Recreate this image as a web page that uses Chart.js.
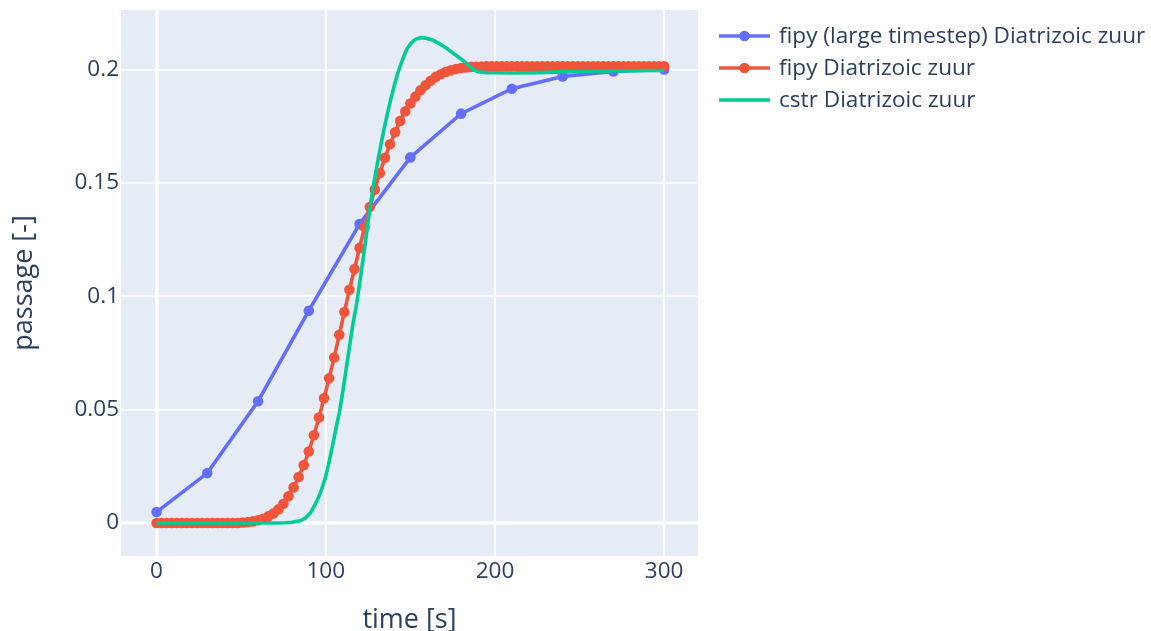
<!DOCTYPE html>
<html>
<head>
<meta charset="utf-8">
<title>passage vs time</title>
<script src="https://cdn.jsdelivr.net/npm/chart.js@4.4.1/dist/chart.umd.min.js"></script>
<style>
  html, body { margin: 0; padding: 0; background: #ffffff; }
  #wrap { width: 1151px; height: 631px; position: relative; }
</style>
</head>
<body>
<div id="wrap"><canvas id="chart" width="1151" height="631"></canvas></div>
<script>
// Series names shown in the legend
const seriesNames = [
  'fipy (large timestep) Diatrizoic zuur',
  'fipy Diatrizoic zuur',
  'cstr Diatrizoic zuur'
];

// fipy with a large timestep (30 s)
const coarseTime = [0, 30, 60, 90, 120, 150, 180, 210, 240, 270, 300];
const coarsePassage = [0.0048, 0.0220, 0.0537, 0.0936, 0.1318, 0.1612, 0.1805, 0.1915, 0.1969, 0.1991, 0.2000];

// fipy with a 3 s timestep
const fineTime = [
  0, 3, 6, 9, 12, 15, 18, 21, 24, 27, 30, 33, 36, 39, 42, 45, 48,
  51, 54, 57, 60, 63, 66, 69, 72, 75, 78, 81, 84, 87, 90, 93, 96, 99,
  102, 105, 108, 111, 114, 117, 120, 123, 126, 129, 132, 135, 138, 141, 144, 147,
  150, 153, 156, 159, 162, 165, 168, 171, 174, 177, 180, 183, 186, 189, 192,
  195, 198, 201, 204, 207, 210, 213, 216, 219, 222, 225, 228, 231, 234, 237, 240,
  243, 246, 249, 252, 255, 258, 261, 264, 267, 270, 273, 276, 279, 282, 285, 288,
  291, 294, 297, 300
];
const finePassage = [
  0, 0, 0, 0, 0, 0, 0, 0, 0, 0, 0, 0, 0, 0, 0, 0, 0,
  0.0002, 0.0004, 0.0007, 0.0012, 0.0019, 0.0029, 0.0042, 0.0060, 0.0085, 0.0118, 0.0157, 0.0203, 0.0255, 0.0315, 0.0387, 0.0465, 0.0550,
  0.0638, 0.0730, 0.0830, 0.0930, 0.1028, 0.1120, 0.1213, 0.1305, 0.1393, 0.1470, 0.1543, 0.1610, 0.1670, 0.1723, 0.1773, 0.1815,
  0.1850, 0.1880, 0.1908, 0.1930, 0.1950, 0.1967, 0.1979, 0.1989, 0.1996, 0.2002, 0.2006, 0.2009, 0.2011, 0.2012, 0.2013,
  0.2014, 0.2014, 0.2014, 0.2014, 0.2014, 0.2014, 0.2014, 0.2014, 0.2014, 0.2014, 0.2014, 0.2014, 0.2014, 0.2014, 0.2014, 0.2014,
  0.2014, 0.2014, 0.2014, 0.2014, 0.2014, 0.2014, 0.2014, 0.2014, 0.2014, 0.2014, 0.2014, 0.2014, 0.2014, 0.2014, 0.2014, 0.2014,
  0.2014, 0.2014, 0.2014, 0.2014
];

// CSTR model response
const cstrTime = [
  0, 20, 40, 60, 70, 76, 80, 85, 88, 91, 94, 97, 100, 102, 104, 106, 108, 110,
  112, 114, 116, 118, 120, 122, 124, 126, 128, 130, 132, 134, 136, 138, 140,
  142, 144, 146, 148, 150, 152, 154, 156, 158, 160, 163, 166, 169, 172, 175,
  178, 181, 184, 187, 190, 195, 200, 210, 225, 240, 260, 280, 300
];
const cstrPassage = [
  0, 0, 0, 0, 0, 0.0001, 0.0003, 0.0010, 0.0022, 0.0045, 0.0085, 0.0135, 0.0205, 0.0270, 0.0340, 0.0415, 0.0485, 0.0575,
  0.0675, 0.0775, 0.0875, 0.0955, 0.1055, 0.1160, 0.1270, 0.1380, 0.1480, 0.1565, 0.1645, 0.1720, 0.1790, 0.1855, 0.1915,
  0.1970, 0.2015, 0.2055, 0.2090, 0.2112, 0.2127, 0.2136, 0.2140, 0.2139, 0.2136, 0.2130, 0.2118, 0.2105, 0.2090, 0.2073,
  0.2057, 0.2040, 0.2021, 0.2000, 0.1990, 0.1986, 0.1985, 0.1984, 0.1986, 0.1989, 0.1992, 0.1994, 0.1995
];

// Axis ticks
const xTicks = [0, 100, 200, 300];
const xTickLabels = ['0', '100', '200', '300'];
const yTicks = [0, 0.05, 0.1, 0.15, 0.2];
const yTickLabels = ['0', '0.05', '0.1', '0.15', '0.2'];

const TEXT = '#2a3f5f';
const FONT = '"Open Sans", "Noto Sans", sans-serif';
const COLORS = ['#636efa', '#ef553b', '#00cc96'];

const toPoints = (xs, ys) => xs.map((x, i) => ({ x: x, y: ys[i] }));

// Legend to the right of the plot: line sample with a marker, then the name
const sideLegend = {
  id: 'sideLegend',
  afterDraw(chart) {
    const ctx = chart.ctx;
    ctx.save();
    chart.data.datasets.forEach((ds, i) => {
      const y = 36 + i * 32;
      ctx.strokeStyle = ds.borderColor;
      ctx.lineWidth = 3.6;
      ctx.beginPath();
      ctx.moveTo(719, y);
      ctx.lineTo(770, y);
      ctx.stroke();
      if (ds.pointRadius > 0) {
        ctx.fillStyle = ds.borderColor;
        ctx.beginPath();
        ctx.arc(744.5, y, 5.3, 0, Math.PI * 2);
        ctx.fill();
      }
      ctx.fillStyle = TEXT;
      ctx.font = '22.6px ' + FONT;
      ctx.textBaseline = 'middle';
      ctx.textAlign = 'left';
      ctx.fillText(ds.label, 779, y + 1);
    });
    ctx.restore();
  }
};

// Plot background
const plotBg = {
  id: 'plotBg',
  beforeDraw(chart) {
    const { ctx, chartArea: a } = chart;
    ctx.save();
    ctx.fillStyle = '#e5ecf6';
    ctx.fillRect(a.left, a.top, a.right - a.left, a.bottom - a.top);
    ctx.restore();
  }
};

new Chart(document.getElementById('chart'), {
  type: 'line',
  data: {
    datasets: [
      {
        label: seriesNames[0],
        data: toPoints(coarseTime, coarsePassage),
        borderColor: COLORS[0],
        backgroundColor: COLORS[0],
        pointBackgroundColor: COLORS[0],
        borderWidth: 3.6,
        pointRadius: 5.3,
        pointBorderWidth: 0,
        order: 3
      },
      {
        label: seriesNames[1],
        data: toPoints(fineTime, finePassage),
        borderColor: COLORS[1],
        backgroundColor: COLORS[1],
        pointBackgroundColor: COLORS[1],
        borderWidth: 3.6,
        pointRadius: 5.3,
        pointBorderWidth: 0,
        order: 2
      },
      {
        label: seriesNames[2],
        data: toPoints(cstrTime, cstrPassage),
        borderColor: COLORS[2],
        backgroundColor: COLORS[2],
        borderWidth: 3.6,
        pointRadius: 0,
        order: 1
      }
    ]
  },
  options: {
    responsive: false,
    animation: false,
    events: [],
    layout: { padding: { left: 0, right: 453, top: 10, bottom: 0 } },
    plugins: {
      legend: { display: false },
      tooltip: { enabled: false }
    },
    scales: {
      x: {
        type: 'linear',
        min: -21,
        max: 320,
        afterBuildTicks: (s) => { s.ticks = xTicks.map(v => ({ value: v })); },
        afterFit: (s) => { s.height = 75; s.paddingLeft = 0; s.paddingRight = 0; },
        border: { display: false },
        grid: {
          color: '#ffffff',
          lineWidth: (c) => (c.tick && c.tick.value === 0 ? 3.6 : 1.8),
          drawTicks: false
        },
        ticks: {
          color: TEXT,
          font: { family: FONT, size: 22.5 },
          padding: 2,
          maxRotation: 0,
          callback: (v) => xTickLabels[xTicks.indexOf(v)]
        },
        title: {
          display: true,
          text: 'time [s]',
          color: TEXT,
          font: { family: FONT, size: 27 },
          padding: { top: 0, bottom: -6 }
        }
      },
      y: {
        type: 'linear',
        min: -0.01455,
        max: 0.2262,
        afterBuildTicks: (s) => { s.ticks = yTicks.map(v => ({ value: v })); },
        afterFit: (s) => { s.width = 121; s.paddingTop = 0; s.paddingBottom = 0; },
        border: { display: false },
        grid: {
          color: '#ffffff',
          lineWidth: (c) => (c.tick && c.tick.value === 0 ? 3.6 : 1.8),
          drawTicks: false
        },
        ticks: {
          color: TEXT,
          font: { family: FONT, size: 22.5 },
          padding: 2,
          callback: (v) => yTickLabels[yTicks.indexOf(v)]
        },
        title: {
          display: true,
          text: 'passage [-]',
          color: TEXT,
          font: { family: FONT, size: 27 },
          padding: { top: 8, bottom: 8 }
        }
      }
    }
  },
  plugins: [plotBg, sideLegend]
});
</script>
</body>
</html>
